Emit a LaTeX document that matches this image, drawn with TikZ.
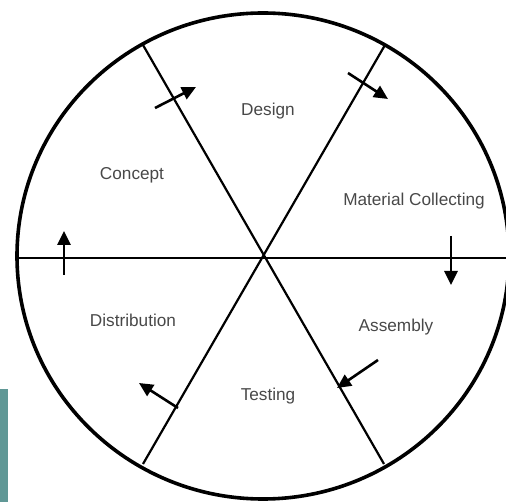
\documentclass[tikz,border=0pt]{standalone}
\usepackage{fontspec}
\setmainfont{Liberation Sans}
\usetikzlibrary{arrows.meta}
\definecolor{lbl}{RGB}{72,72,72}
\definecolor{tealbar}{RGB}{96,152,150}
\begin{document}
\begin{tikzpicture}[x=1pt,y=-1pt,
  rim/.style={line width=3.6pt},
  spoke/.style={line width=2.2pt},
  flow/.style={line width=2.6pt,-{Triangle[length=14pt,width=13pt]}},
  lab/.style={font=\fontsize{17.2}{20}\selectfont, text=lbl, inner sep=0pt}]
\useasboundingbox (0,0) rectangle (506,502);
\begin{scope}
\clip (0,0) rectangle (506,502);
\fill[tealbar] (0,389) rectangle (8,502);
\coordinate (o) at (263,256);
\coordinate (c) at (263,258);
\draw[rim] (o) ellipse [x radius=246, y radius=243];
% spokes
\coordinate (tl) at (143,45);
\coordinate (tr) at (385,45);
\coordinate (bl) at (143,464);
\coordinate (br) at (384,464);
\coordinate (le) at (17,258);
\coordinate (re) at (510,258);
\draw[spoke] (tl) -- (br);
\draw[spoke] (tr) -- (bl);
\draw[spoke] (le) -- (re);
% arrows
\coordinate (a1s) at (155,108); \coordinate (a1e) at (196,87);
\coordinate (a2s) at (348,73);  \coordinate (a2e) at (388,99);
\coordinate (a3s) at (451,236); \coordinate (a3e) at (451,285);
\coordinate (a4s) at (378,360); \coordinate (a4e) at (337,388);
\coordinate (a5s) at (178,408); \coordinate (a5e) at (139,383);
\coordinate (a6s) at (64,275);  \coordinate (a6e) at (64,231);
\draw[flow] (a1s) -- (a1e);
\draw[flow] (a2s) -- (a2e);
\draw[flow] (a3s) -- (a3e);
\draw[flow] (a4s) -- (a4e);
\draw[flow] (a5s) -- (a5e);
\draw[flow] (a6s) -- (a6e);
% labels
\node[lab] (design) at (268,111) {Design};
\node[lab] (concept) at (132,175) {Concept};
\node[lab] (material) at (414,201) {Material Collecting};
\node[lab] (distribution) at (133,320) {Distribution};
\node[lab] (assembly) at (396,327) {Assembly};
\node[lab] (testing) at (268,396) {Testing};
\end{scope}
\end{tikzpicture}
\end{document}
